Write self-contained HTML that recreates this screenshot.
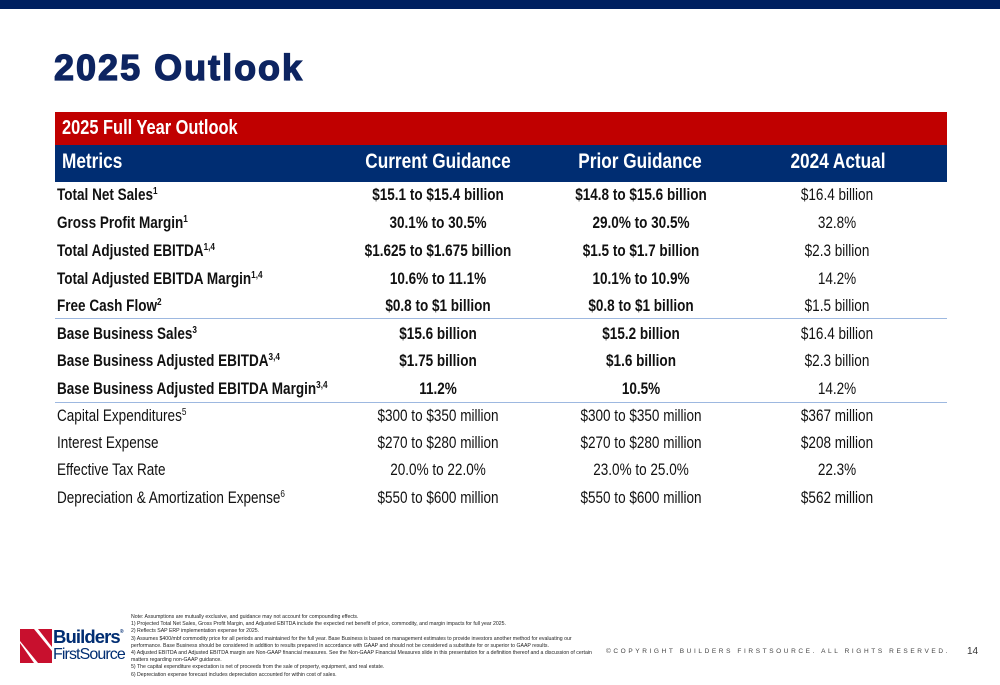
<!DOCTYPE html>
<html><head><meta charset="utf-8"><style>
body{margin:0;width:1000px;height:685px;position:relative;background:#fff;font-family:"Liberation Sans",sans-serif;overflow:hidden}
.a{position:absolute;white-space:nowrap}
.n{display:inline-block;transform:scaleX(.82)}
.l .n{transform-origin:left center}
.c{transform:translateX(-50%)}
.c .n{transform-origin:center}
.row{font-size:16.5px;color:#111}
.b{font-weight:bold}
sup{font-size:10px;vertical-align:6px;line-height:0}
.hdr{color:#fff;font-weight:bold;font-size:21px}
.fn{font-size:5.2px;color:#222;line-height:7.2px}
</style></head><body>
<div class="a" style="left:0;top:0;width:1000px;height:9px;background:#002060"></div>
<div class="a" style="left:54px;top:47px;font-size:36px;font-weight:900;color:#0d2461;letter-spacing:2px;-webkit-text-stroke:1.3px #0d2461">2025 Outlook</div>
<div class="a" style="left:55px;top:112px;width:892px;height:33px;background:#c00000"></div>
<div class="a hdr l" style="left:62px;top:117px;font-size:20px"><span class="n">2025 Full Year Outlook</span></div>
<div class="a" style="left:55px;top:145px;width:892px;height:37px;background:#002d72"></div>
<div class="a hdr l" style="left:62px;top:150px"><span class="n">Metrics</span></div>
<div class="a hdr c" style="left:438px;top:150px"><span class="n">Current Guidance</span></div>
<div class="a hdr c" style="left:640px;top:150px"><span class="n">Prior Guidance</span></div>
<div class="a hdr c" style="left:838px;top:150px"><span class="n">2024 Actual</span></div>
<div class="a" style="left:55px;top:318px;width:892px;height:1px;background:#9db8e0"></div>
<div class="a" style="left:55px;top:402px;width:892px;height:1px;background:#9db8e0"></div>
<div id="rows"></div>
<div class="a" style="left:20px;top:626px;width:108px;height:40px">
<svg width="32" height="34" viewBox="0 0 32 34" style="position:absolute;left:0;top:3px"><polygon points="0,0 14,0 32,22 32,34 18,34 0,12" fill="#c8102e"/><polygon points="0,14 14,34 0,34" fill="#c8102e"/><polygon points="18,0 32,0 32,18" fill="#c8102e"/></svg>
<div class="a" style="left:33px;top:0px;font-size:18.5px;font-weight:bold;color:#002d72;letter-spacing:-0.9px">Builders<span style="font-size:5px;vertical-align:10px">®</span></div>
<div class="a" style="left:33px;top:20px;font-size:16px;color:#002d72;letter-spacing:-0.9px">FirstSource</div>
</div>
<div class="a fn" style="left:131px;top:614px">Note: Assumptions are mutually exclusive, and guidance may not account for compounding effects.<br>1) Projected Total Net Sales, Gross Profit Margin, and Adjusted EBITDA include the expected net benefit of price, commodity, and margin impacts for full year 2025.<br>2) Reflects SAP ERP implementation expense for 2025.<br>3) Assumes $400/mbf commodity price for all periods and maintained for the full year. Base Business is based on management estimates to provide investors another method for evaluating our<br>performance. Base Business should be considered in addition to results prepared in accordance with GAAP and should not be considered a substitute for or superior to GAAP results.<br>4) Adjusted EBITDA and Adjusted EBITDA margin are Non-GAAP financial measures. See the Non-GAAP Financial Measures slide in this presentation for a definition thereof and a discussion of certain<br>matters regarding non-GAAP guidance.<br>5) The capital expenditure expectation is net of proceeds from the sale of property, equipment, and real estate.<br>6) Depreciation expense forecast includes depreciation accounted for within cost of sales.</div>
<div class="a" style="left:606px;top:648px;font-size:6.5px;letter-spacing:2.6px;color:#444">©COPYRIGHT BUILDERS FIRSTSOURCE. ALL RIGHTS RESERVED.</div>
<div class="a" style="left:967px;top:646px;font-size:10px;color:#333">14</div>
<script>
const metrics=["Total Net Sales<sup>1</sup>","Gross Profit Margin<sup>1</sup>","Total Adjusted EBITDA<sup>1,4</sup>","Total Adjusted EBITDA Margin<sup>1,4</sup>","Free Cash Flow<sup>2</sup>","Base Business Sales<sup>3</sup>","Base Business Adjusted EBITDA<sup>3,4</sup>","Base Business Adjusted EBITDA Margin<sup>3,4</sup>","Capital Expenditures<sup>5</sup>","Interest Expense","Effective Tax Rate","Depreciation &amp; Amortization Expense<sup>6</sup>"];
const current=["$15.1 to $15.4 billion","30.1% to 30.5%","$1.625 to $1.675 billion","10.6% to 11.1%","$0.8 to $1 billion","$15.6 billion","$1.75 billion","11.2%","$300 to $350 million","$270 to $280 million","20.0% to 22.0%","$550 to $600 million"];
const prior=["$14.8 to $15.6 billion","29.0% to 30.5%","$1.5 to $1.7 billion","10.1% to 10.9%","$0.8 to $1 billion","$15.2 billion","$1.6 billion","10.5%","$300 to $350 million","$270 to $280 million","23.0% to 25.0%","$550 to $600 million"];
const actual=["$16.4 billion","32.8%","$2.3 billion","14.2%","$1.5 billion","$16.4 billion","$2.3 billion","14.2%","$367 million","$208 million","22.3%","$562 million"];
const tops=[186,214,242,270,297,325,352,380,407,434,461,489];
const host=document.getElementById('rows');
function cell(html,cls,left,top,bold){const d=document.createElement('div');d.className='a row '+cls+(bold?' b':'');d.style.left=left+'px';d.style.top=top+'px';d.innerHTML='<span class="n">'+html+'</span>';host.appendChild(d);return d;}
metrics.forEach((m,i)=>{const b=i<8;
const e1=cell(m,'l',57,tops[i],b);


const e2=cell(current[i],'c',438,tops[i],b);


const e3=cell(prior[i],'c',641,tops[i],b);


const e4=cell(actual[i],'c',837,tops[i],false);


});
</script>
</body></html>
